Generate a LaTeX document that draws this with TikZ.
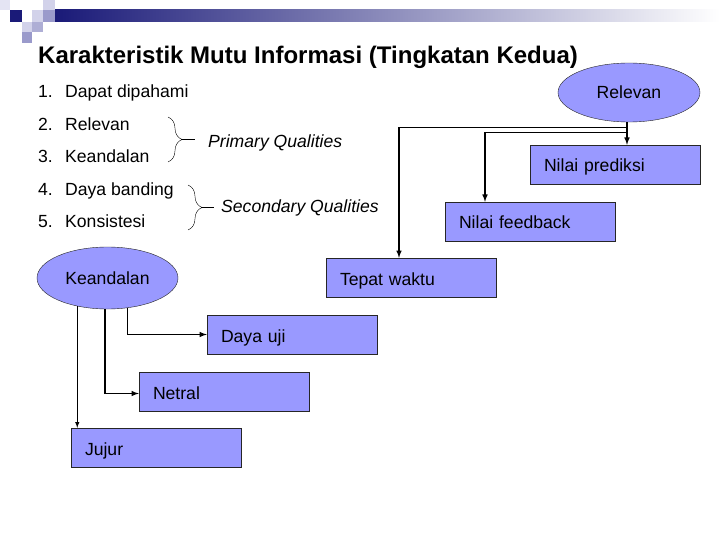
\documentclass[tikz,border=0pt]{standalone}
\usepackage{fontspec}
\setmainfont{Liberation Sans}
\usetikzlibrary{shapes.geometric, decorations.pathreplacing}
\definecolor{boxfill}{HTML}{9999FF}
\definecolor{navy}{HTML}{1A1A78}
\definecolor{sqlight}{HTML}{D2D2EA}
\definecolor{sqmid}{HTML}{9A9ACB}
\newcommand{\bodyfont}{\fontsize{17.6}{21}\selectfont}
\begin{document}
\begin{tikzpicture}[x=1pt, y=-1pt, >=latex,
    box/.style={draw=black!85, fill=boxfill, minimum height=39pt, text width=142pt, text height=18pt, text depth=3pt, inner xsep=14pt, align=left, font=\bodyfont},
    oval/.style={ellipse, draw=black!85, fill=boxfill, inner sep=0pt, font=\bodyfont},
    item/.style={anchor=base west, inner sep=0pt, font=\bodyfont},
    link/.style={->, line width=1.5pt}]
    \useasboundingbox (0,0) rectangle (720,540);
    \fill[white] (0,0) rectangle (720,540);
    % banner
    \shade[left color=navy, right color=white] (55,10) rectangle (720,22);
    \fill[sqlight!60] (0,0) rectangle (10,10);
    \fill[sqlight] (43,0) rectangle (55,10);
    \fill[navy] (10,10) rectangle (22,22);
    \fill[sqlight] (32,10) rectangle (43,22);
    \fill[sqmid] (43,10) rectangle (55,22);
    \fill[sqlight] (22,22) rectangle (32,32);
    \fill[sqmid!80] (32,22) rectangle (43,32);
    \fill[sqmid] (22,32) rectangle (32,43);
    \node[anchor=base west, inner sep=0pt, font=\fontsize{24}{28}\selectfont\bfseries] (title) at (38,64) {Karakteristik Mutu Informasi (Tingkatan Kedua)};
    % list
    \node[item] (item1) at (38,98) {\makebox[27pt][l]{1.}Dapat dipahami};
    \node[item] (item2) at (38,130.5) {\makebox[27pt][l]{2.}Relevan};
    \node[item] (item3) at (38,163) {\makebox[27pt][l]{3.}Keandalan};
    \node[item] (item4) at (38,195.5) {\makebox[27pt][l]{4.}Daya banding};
    \node[item] (item5) at (38,228) {\makebox[27pt][l]{5.}Konsistesi};
    \draw[decorate, decoration={brace, amplitude=14pt}] (168,117) -- (168,162);
    \draw (182,139.5) -- (195,139.5);
    \node[item, font=\bodyfont\itshape] (prim) at (208,148) {Primary Qualities};
    \draw[decorate, decoration={brace, amplitude=14pt}] (188,185) -- (188,230);
    \draw (202,207.5) -- (214,207.5);
    \node[item, font=\bodyfont\itshape] (sec) at (221,212) {Secondary Qualities};
    % relevan
    \node[oval, minimum width=142pt, minimum height=59pt] (rel) at (629,92.5) {Relevan};
    \node[box] (pred) at (615,164.5) {Nilai prediksi};
    \node[box] (feed) at (530,221.5) {Nilai feedback};
    \node[box] (tepat) at (411,277.5) {Tepat waktu};
    \draw[link] ([xshift=-2pt]rel.south) -- ([xshift=-2pt]rel.south |- pred.north);
    \draw[link] ([xshift=-2pt]rel.south) -- ++(0,10.5) -| ([xshift=-45pt]feed.north);
    \draw[link] ([xshift=-2pt]rel.south) -- ++(0,5.5) -| ([xshift=-12pt]tepat.north);
    % keandalan
    \node[oval, minimum width=141pt, minimum height=62pt] (kean) at (107.5,278) {Keandalan};
    \node[box] (uji) at (292,334.5) {Daya uji};
    \node[box] (netral) at (224,391.5) {Netral};
    \node[box] (jujur) at (156,447.5) {Jujur};
    \draw[link] (kean.304) |- (uji.west);
    \draw[link] (kean.265) |- ([yshift=-2pt]netral.west);
    \draw[->, line width=1pt] (kean.223) -- (kean.223 |- jujur.north);
\end{tikzpicture}
\end{document}
